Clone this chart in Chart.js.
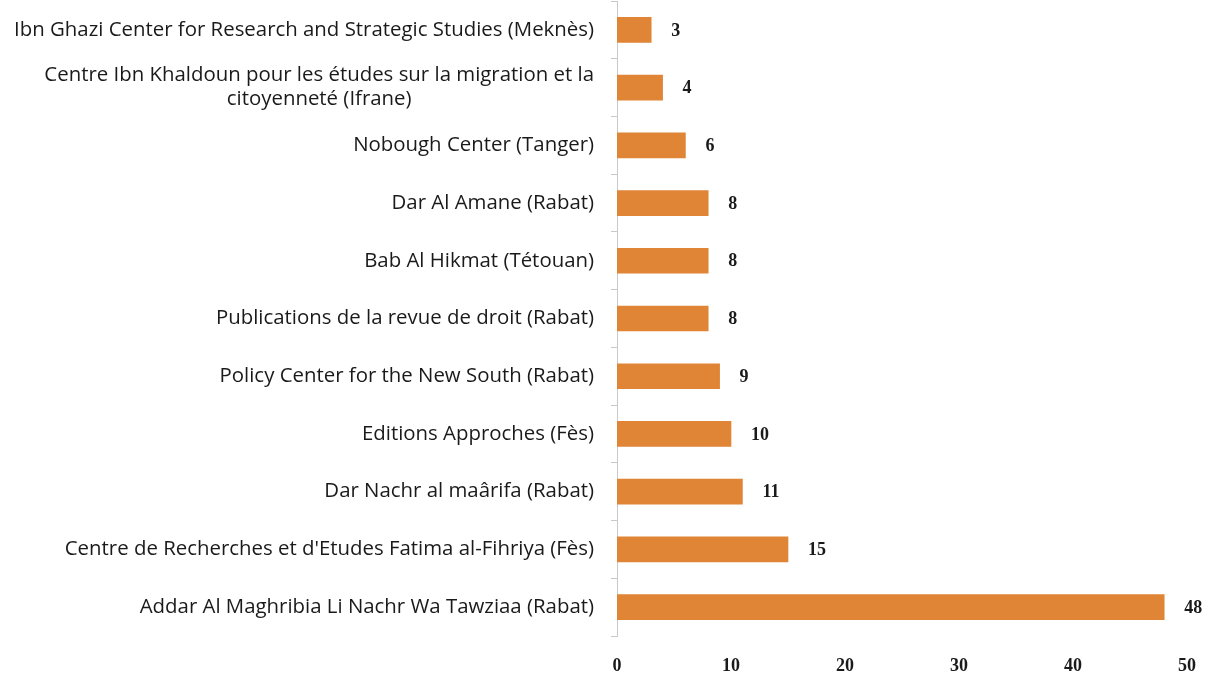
<!DOCTYPE html>
<html>
<head>
<meta charset="utf-8">
<script src="https://cdn.jsdelivr.net/npm/chart.js@4.4.1/dist/chart.umd.min.js"></script>
<style>
html,body{margin:0;padding:0;background:#fff;}
#wrap{width:1216px;height:675px;position:relative;}
</style>
</head>
<body>
<div id="wrap"><canvas id="c" width="1216" height="675"></canvas></div>
<script>
const categories = [
  "Ibn Ghazi Center for Research and Strategic Studies (Meknès)",
  ["Centre Ibn Khaldoun pour les études sur la migration et la", "citoyenneté (Ifrane)"],
  "Nobough Center (Tanger)",
  "Dar Al Amane (Rabat)",
  "Bab Al Hikmat (Tétouan)",
  "Publications de la revue de droit (Rabat)",
  "Policy Center for the New South (Rabat)",
  "Editions Approches (Fès)",
  "Dar Nachr al maârifa (Rabat)",
  "Centre de Recherches et d'Etudes Fatima al-Fihriya (Fès)",
  "Addar Al Maghribia Li Nachr Wa Tawziaa (Rabat)"
];
const values = [3, 4, 6, 8, 8, 8, 9, 10, 11, 15, 48];
const xTicks = [0, 10, 20, 30, 40, 50];

const BAR_COLOR = '#DF8535';
const LABEL_FONT = '20.4px "Open Sans", Lato, sans-serif';
const VALUE_FONT = 'bold 18px "Liberation Serif", "DejaVu Serif", serif';

const customLabels = {
  id: 'customLabels',
  afterDraw(chart) {
    const ctx = chart.ctx;
    const ys = chart.scales.y;
    const xs = chart.scales.x;
    const meta = chart.getDatasetMeta(0);
    ctx.save();
    ctx.font = LABEL_FONT;
    ctx.fillStyle = '#1a1a1a';
    ctx.textAlign = 'center';
    ctx.textBaseline = 'middle';
    const right = ys.right - 23;
    const lh = 24;
    categories.forEach((lab, i) => {
      const lines = Array.isArray(lab) ? lab : [lab];
      const w = Math.max(...lines.map(l => ctx.measureText(l).width));
      const cx = right - w / 2;
      const cy = ys.getPixelForValue(i);
      const y0 = cy - (lines.length - 1) * lh / 2;
      lines.forEach((l, k) => ctx.fillText(l, cx, y0 + k * lh));
    });
    ctx.font = VALUE_FONT;
    ctx.fillStyle = '#1a1a1a';
    ctx.textAlign = 'left';
    meta.data.forEach((bar, i) => {
      ctx.fillText(String(values[i]), xs.getPixelForValue(values[i]) + 20, bar.y + 1);
    });
    ctx.restore();
  }
};

new Chart(document.getElementById('c'), {
  type: 'bar',
  data: {
    labels: categories,
    datasets: [{
      data: values,
      backgroundColor: BAR_COLOR,
      borderWidth: 0,
      barThickness: 25
    }]
  },
  options: {
    indexAxis: 'y',
    responsive: false,
    animation: false,
    devicePixelRatio: 1,
    layout: { padding: { top: 1, right: 26, bottom: 0, left: 0 } },
    plugins: { legend: { display: false }, tooltip: { enabled: false } },
    scales: {
      x: {
        min: 0, max: 50,
        afterBuildTicks(scale) { scale.ticks = xTicks.map(v => ({ value: v })); },
        afterFit(scale) { scale.height = 39; },
        grid: { display: false, tickLength: 0 },
        border: { display: false },
        ticks: {
          padding: 20,
          color: '#1a1a1a',
          font: { family: '"Liberation Serif", "DejaVu Serif", serif', size: 18, weight: 'bold' }
        }
      },
      y: {
        afterFit(scale) { scale.width = 617; scale.paddingTop = 0; scale.paddingBottom = 0; },
        grid: { display: true, drawOnChartArea: false, drawTicks: true, tickLength: 6, color: '#c9c9c9', offset: true },
        border: { display: true, color: '#c9c9c9', width: 1 },
        ticks: { color: 'rgba(0,0,0,0)', font: { size: 1 } }
      }
    }
  },
  plugins: [customLabels]
});
</script>
</body>
</html>
